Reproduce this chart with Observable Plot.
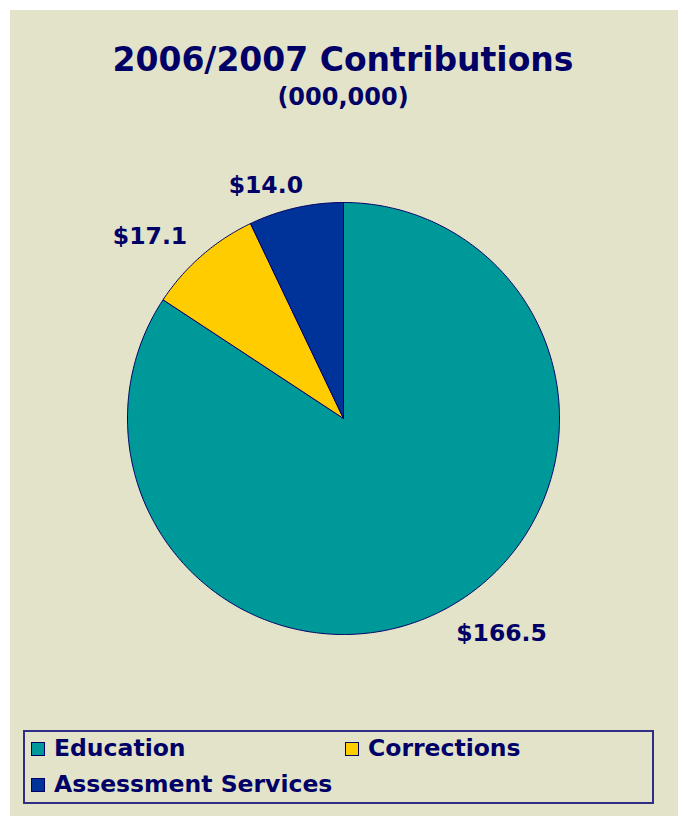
<!DOCTYPE html>
<html>
<head>
<meta charset="utf-8">
<script src="https://cdn.jsdelivr.net/npm/d3@7"></script>
<script src="https://cdn.jsdelivr.net/npm/@observablehq/plot@0.6"></script>
<style>
  html, body { margin: 0; padding: 0; background: #ffffff; width: 681px; height: 816px; overflow: hidden; }
  body { position: relative; font-family: "DejaVu Sans", Verdana, sans-serif; font-weight: bold; color: #000066; }
  #bg { position: absolute; left: 10px; top: 10px; width: 668px; height: 810px; background: #E3E3C9; }
  #chart { position: absolute; left: 0; top: 0; }
  .t { position: absolute; white-space: nowrap; }
  #title { left: 0; width: 686px; text-align: center; top: 40px; font-size: 33px; line-height: 40px; }
  #subtitle { left: 0; width: 686px; text-align: center; top: 82px; font-size: 24px; line-height: 30px; }
  #legend { position: absolute; left: 23px; top: 730px; width: 627px; height: 70px; border: 2px solid #2E2E85; }
  .sw { position: absolute; width: 12px; height: 12px; border: 1.5px solid #000066; }
  .lt { position: absolute; font-size: 23.5px; line-height: 28px; }
</style>
</head>
<body>
<div id="bg"></div>
<div id="chart"></div>
<div class="t" id="title">2006/2007 Contributions</div>
<div class="t" id="subtitle">(000,000)</div>
<div id="legend"></div>
<script>
const categories = ["Education", "Corrections", "Assessment Services"];
const values = [166.5, 17.1, 14.0];
const labels = ["$166.5", "$17.1", "$14.0"];
const colors = ["#009999", "#FFCC00", "#003399"];

const data = categories.map((c, i) => ({category: c, value: values[i], label: labels[i]}));
const arcs = d3.pie().sort(null).value(d => d.value)(data);

// polygon outlines for each slice (angles measured clockwise from 12 o'clock)
const poly = [];
for (const a of arcs) {
  const n = Math.max(2, Math.ceil((a.endAngle - a.startAngle) / 0.01));
  poly.push({category: a.data.category, x: 0, y: 0});
  for (let k = 0; k <= n; k++) {
    const t = a.startAngle + (a.endAngle - a.startAngle) * k / n;
    poly.push({category: a.data.category, x: Math.sin(t), y: Math.cos(t)});
  }
  poly.push({category: a.data.category, x: 0, y: 0});
}

const labelPts = arcs.map(a => {
  const m = (a.startAngle + a.endAngle) / 2;
  return {category: a.data.category, label: a.data.label, x: 1.08 * Math.sin(m), y: 1.08 * Math.cos(m)};
});

const textOpts = {fill: "#000066", fontSize: 23.5, fontWeight: "bold", fontFamily: "DejaVu Sans, Verdana, sans-serif", text: "label", x: "x", y: "y"};

const plot = Plot.plot({
  width: 681,
  height: 816,
  margin: 0,
  style: {background: "transparent", overflow: "visible"},
  x: {domain: [-1, 1], range: [127, 559], axis: null},
  y: {domain: [-1, 1], range: [634, 202], axis: null},
  color: {domain: categories, range: colors},
  marks: [
    Plot.line(poly, {x: "x", y: "y", z: "category", fill: "category", stroke: "#000066", strokeWidth: 1, strokeLinejoin: "round"}),
    Plot.text(labelPts.filter(d => d.category === "Education"), {...textOpts, textAnchor: "start", lineAnchor: "top", dx: 2}),
    Plot.text(labelPts.filter(d => d.category === "Corrections"), {...textOpts, textAnchor: "end", lineAnchor: "bottom", dx: -3, dy: 1}),
    Plot.text(labelPts.filter(d => d.category === "Assessment Services"), {...textOpts, textAnchor: "end", lineAnchor: "bottom", dx: 11, dy: 2})
  ]
});
document.getElementById("chart").appendChild(plot);

// legend
const legend = document.getElementById("legend");
const pos = [{sx: 6, sy: 10, tx: 29}, {sx: 320, sy: 10, tx: 343}, {sx: 6, sy: 46, tx: 29}];
categories.forEach((c, i) => {
  const sw = document.createElement("div");
  sw.className = "sw";
  sw.style.left = pos[i].sx + "px";
  sw.style.top = pos[i].sy + "px";
  sw.style.background = colors[i];
  legend.appendChild(sw);
  const lt = document.createElement("div");
  lt.className = "lt";
  lt.style.left = pos[i].tx + "px";
  lt.style.top = (pos[i].sy - 8) + "px";
  lt.textContent = c;
  legend.appendChild(lt);
});
</script>
</body>
</html>
